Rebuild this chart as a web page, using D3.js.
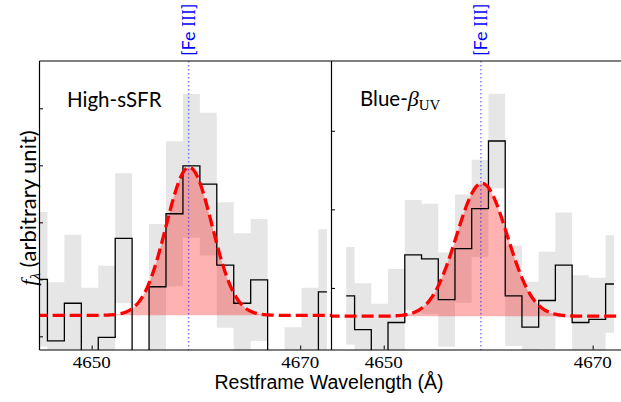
<!DOCTYPE html>
<html><head><meta charset="utf-8">
<script src="https://cdn.jsdelivr.net/npm/d3@7"></script>
<style>body{margin:0;background:#fff;overflow:hidden}</style>
</head><body><svg id="c" width="621" height="402"></svg>
<script>
// ---------------- data ----------------
const panelNames = ["High-sSFR", "Blue-"];
const xTicks = [4650, 4670];
const yTicksL = [0, 1, 2, 3, 4];
const yTicksR = [1, 2, 3];
const feIIIWave = 4659.3;

const waveL = [4644.95, 4646.57, 4648.20, 4649.82, 4651.45, 4653.07, 4654.69, 4656.32, 4657.94,
               4659.57, 4661.19, 4662.81, 4664.44, 4666.06, 4667.69, 4669.31, 4670.93, 4672.56];
const fluxL = [1.00, -0.08, 0.58, -0.35, -0.02, 1.72, -0.90, 0.87, 2.15,
               2.99, 2.67, 1.25, 0.58, 0.99, -0.90, -0.90, -0.35, 0.78];
const errL  = [1.18, 1.03, 1.20, 1.20, 1.26, 1.14, 0.60, 1.10, 1.27,
               1.26, 1.25, 1.10, 1.23, 1.07, 0.60, 1.06, 1.20, 1.10];

const waveR = [4646.41, 4648.01, 4649.61, 4651.21, 4652.82, 4654.42, 4656.02, 4657.62, 4659.22,
               4660.83, 4662.43, 4664.03, 4665.63, 4667.23, 4668.84, 4670.44, 4672.04];
const fluxR = [0.90, 0.47, -0.05, 0.56, 1.42, 1.37, 0.85, 1.50, 2.01,
               2.87, 0.90, 0.50, 0.84, 1.29, 0.56, 0.60, 1.05];
const errR  = [0.62, 0.59, 0.85, 0.68, 0.70, 0.70, 0.60, 0.69, 0.62,
               0.60, 0.64, 0.58, 0.62, 0.67, 0.60, 0.53, 0.62];

// Gaussian fit parameters: continuum, amplitude, centre, sigma
const fitL = [0.368, 2.597, 4659.35, 2.20];
const fitR = [0.640, 1.691, 4659.40, 2.43];

// ---------------- drawing ----------------
const svg = d3.select("#c");
const TOP = 61, BOT = 350;
const SANS = "Lato, 'Open Sans', sans-serif";
const SANS2 = "'Liberation Sans', Arial, sans-serif";
const SERIF = "'Liberation Serif', 'DejaVu Serif', serif";

const panels = [
  {x0: 39.5, x1: 331.5, yDom: [-0.24, 4.83], yTicks: yTicksL, wave: waveL, flux: fluxL, err: errL, fit: fitL, id: "L"},
  {x0: 331.5, x1: 624, yDom: [0.21, 3.888], yTicks: yTicksR, wave: waveR, flux: fluxR, err: errR, fit: fitR, id: "R"}
];

const defs = svg.append("defs");

panels.forEach((p, pi) => {
  const x = d3.scaleLinear().domain([4645, 4673]).range([p.x0, p.x1]);
  const y = d3.scaleLinear().domain(p.yDom).range([BOT, TOP]);
  defs.append("clipPath").attr("id", "clip" + p.id)
    .append("rect").attr("x", p.x0).attr("y", TOP).attr("width", p.x1 - p.x0).attr("height", BOT - TOP);
  const g = svg.append("g").attr("clip-path", `url(#clip${p.id})`);
  const idx = d3.range(p.wave.length);

  // error band
  g.append("path")
    .attr("d", d3.area().curve(d3.curveStep)
      .x(i => x(p.wave[i])).y0(i => y(p.flux[i] - p.err[i])).y1(i => y(p.flux[i] + p.err[i]))(idx))
    .attr("fill", "#e6e6e6");

  // gaussian model
  const [c, a, mu, s] = p.fit;
  const gauss = w => c + a * Math.exp(-0.5 * ((w - mu) / s) ** 2);
  const mx = d3.range(4643, 4676, 0.05);
  g.append("path")
    .attr("d", d3.area().x(w => x(w)).y0(y(c)).y1(w => y(gauss(w)))(mx))
    .attr("fill", "red").attr("fill-opacity", 0.3);

  // data step
  g.append("path")
    .attr("d", d3.line().curve(d3.curveStep).x(i => x(p.wave[i])).y(i => y(p.flux[i]))(idx))
    .attr("fill", "none").attr("stroke", "#000").attr("stroke-width", 1.3);

  // [Fe III] line
  g.append("line").attr("x1", x(feIIIWave)).attr("x2", x(feIIIWave)).attr("y1", TOP).attr("y2", BOT)
    .attr("stroke", "#0000ff").attr("stroke-opacity", 0.5).attr("stroke-width", 1.5)
    .attr("stroke-dasharray", "1.5,2.5");

  g.append("path")
    .attr("d", d3.line().x(w => x(w)).y(w => y(gauss(w)))(mx))
    .attr("fill", "none").attr("stroke", "red").attr("stroke-width", 3.3)
    .attr("stroke-dasharray", "12,5");

  // frame
  svg.append("line").attr("x1", p.x0).attr("x2", p.x1).attr("y1", TOP).attr("y2", TOP).attr("stroke", "#000").attr("stroke-width", 1);
  svg.append("line").attr("x1", p.x0).attr("x2", p.x1).attr("y1", BOT).attr("y2", BOT).attr("stroke", "#000").attr("stroke-width", 1);
  svg.append("line").attr("x1", p.x0).attr("x2", p.x0).attr("y1", TOP).attr("y2", BOT).attr("stroke", "#000").attr("stroke-width", 1.2);

  // y ticks (inward)
  const ya = d3.axisLeft(y).tickValues(p.yTicks).tickSize(-4).tickFormat("");
  const yg = svg.append("g").attr("transform", `translate(${p.x0 - 0.5},0)`).call(ya);
  yg.select(".domain").remove();
  yg.selectAll("line").attr("stroke", "#000");

  // x ticks (inward)
  const xa = d3.axisBottom(x).tickValues(xTicks).tickSizeInner(-4).tickSizeOuter(0).tickFormat("");
  const xg = svg.append("g").attr("transform", `translate(0,${BOT - 0.5})`).call(xa);
  xg.select(".domain").remove();
  xg.selectAll("line").attr("stroke", "#000");
  // x tick labels
  svg.append("g").selectAll("text").data(xTicks).join("text")
    .attr("x", d => x(d)).attr("y", 368).attr("text-anchor", "middle")
    .style("font-family", SERIF).style("font-size", "16px").attr("fill", "#000")
    .attr("textLength", 38).attr("lengthAdjust", "spacingAndGlyphs")
    .text(d => d3.format("d")(d));

  // [Fe III] label
  const lt = svg.append("text")
    .attr("transform", `translate(${x(feIIIWave) + 6.5},56) rotate(-90)`)
    .attr("fill", "#0000ff").attr("font-size", 18).attr("font-family", SANS);
  lt.append("tspan").text("[Fe ");
  lt.append("tspan").attr("font-family", SERIF).text("III");
  lt.append("tspan").text("]");
});

// panel labels
svg.append("text").attr("x", 67).attr("y", 106.5).attr("font-family", SANS).attr("font-size", 20.5)
  .attr("fill", "#000").text(panelNames[0]);
const bl = svg.append("text").attr("x", 360).attr("y", 106).attr("font-family", SANS).attr("font-size", 20.5).attr("fill", "#000");
bl.append("tspan").text(panelNames[1]);
bl.append("tspan").attr("font-family", SERIF).attr("font-style", "italic").attr("font-size", 22).text("β");
bl.append("tspan").attr("font-family", SERIF).attr("font-size", 15).attr("dy", 4).text("UV");

// axis labels
svg.append("text").attr("x", 329).attr("y", 389).attr("text-anchor", "middle")
  .attr("font-family", SANS2).attr("font-size", 19.5).attr("fill", "#000").text("Restframe Wavelength (Å)");

const yl = svg.append("text").attr("transform", "translate(36,208) rotate(-90)").attr("text-anchor", "middle")
  .attr("font-family", SANS).attr("font-size", 22).attr("fill", "#000");
yl.append("tspan").attr("font-family", SERIF).attr("font-style", "italic").text("f");
yl.append("tspan").attr("font-family", SERIF).attr("font-style", "italic").attr("font-size", 15).attr("dy", 4).text("λ");
yl.append("tspan").attr("dy", -4).text(" (arbitrary unit)");
</script>
</body></html>
